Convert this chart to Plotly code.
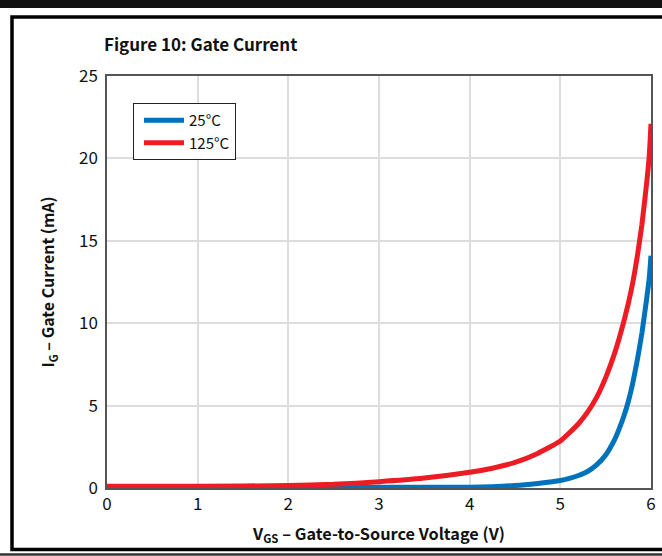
import plotly.graph_objects as go

# Data
vgs = [0, 1, 2, 2.5, 3, 3.5, 4, 4.25, 4.5, 4.75, 5.0, 5.1, 5.2, 5.3, 5.4, 5.5, 5.6, 5.65, 5.7, 5.75, 5.8, 5.85, 5.9, 5.95, 5.98, 6.0]
ig_125c = [0.1, 0.1, 0.15, 0.22, 0.38, 0.6, 0.95, 1.2, 1.55, 2.1, 2.85, 3.35, 3.9, 4.6, 5.5, 6.7, 8.2, 9.1, 10.1, 11.2, 12.5, 14.1, 16.0, 18.4, 20.1, 22.1]
ig_25c = [0.02, 0.02, 0.03, 0.03, 0.04, 0.04, 0.05, 0.08, 0.15, 0.28, 0.45, 0.58, 0.76, 1.0, 1.4, 2.0, 2.95, 3.6, 4.35, 5.25, 6.4, 7.8, 9.4, 11.4, 12.7, 14.1]

names = ["25°C", "125°C"]
colors = ["#0072bc", "#ed1c24"]

x_ticks = [0, 1, 2, 3, 4, 5, 6]
y_ticks = [0, 5, 10, 15, 20, 25]

FONT = "Noto Sans CJK SC, DejaVu Sans Condensed, sans-serif"

fig = go.Figure()
for name, ys, c in zip(names, [ig_25c, ig_125c], colors):
    fig.add_trace(go.Scatter(x=vgs, y=ys, mode="lines", name=name,
                             line=dict(color=c, width=5, shape="spline", smoothing=0.5)))

# plot area in pixels: x 107..651, y 76..488
L, R, T, B = 107, 651, 76, 488
W, H = R - L, B - T
def px(x):
    return (x - L) / W
def py(y):
    return (B - y) / H

shapes = [
    dict(type="rect", xref="paper", yref="paper", x0=px(-10), x1=px(700), y0=py(-2), y1=py(8),
         fillcolor="#111111", line=dict(width=0), layer="above"),
    dict(type="rect", xref="paper", yref="paper", x0=px(12), x1=px(720), y0=py(17), y1=py(549.5),
         fillcolor="rgba(0,0,0,0)", line=dict(color="#000000", width=3.5), layer="above"),
    dict(type="line", xref="paper", yref="paper", x0=px(-10), x1=px(700), y0=py(554.5), y1=py(554.5),
         line=dict(color="#333333", width=2.5), layer="above"),
]

fig.update_layout(
    width=662, height=556,
    margin=dict(l=L, r=662 - R, t=T, b=556 - B, pad=0, autoexpand=False),
    paper_bgcolor="white", plot_bgcolor="white",
    font=dict(family=FONT, color="#111111", size=16),
    title=dict(text="<b>Figure 10: Gate Current</b>", xref="container", x=104 / 662, xanchor="left",
               yref="container", y=1 - 45 / 556, yanchor="middle",
               font=dict(family=FONT, size=17, color="#111111")),
    showlegend=True,
    legend=dict(x=px(133), y=py(103), xanchor="left", yanchor="top",
                bordercolor="#222222", borderwidth=1, bgcolor="white",
                font=dict(family=FONT, size=15, color="#111111"),
                tracegroupgap=0, itemwidth=40, indentation=5),
    shapes=shapes,
    xaxis=dict(range=[0, 6], tickvals=x_ticks, ticktext=[str(t) for t in x_ticks],
               showgrid=True, gridcolor="#dddddd", gridwidth=1.5,
               showline=True, linecolor="#555555", linewidth=1.5, mirror=True,
               ticks="", zeroline=False, tickfont=dict(size=17, color="#111111"), automargin=False,
               title=dict(text="<b>V<sub>GS</sub> – Gate-to-Source Voltage (V)</b>",
                          font=dict(size=16.3), standoff=14)),
    yaxis=dict(range=[0, 25], tickvals=y_ticks, ticktext=[str(t) for t in y_ticks],
               showgrid=True, gridcolor="#dddddd", gridwidth=1.5,
               showline=True, linecolor="#555555", linewidth=1.5, mirror=True,
               ticks="", zeroline=False, tickfont=dict(size=17, color="#111111"), ticklabelstandoff=4,
               automargin=False,
               title=dict(text="<b>I<sub>G</sub> – Gate Current (mA)</b>",
                          font=dict(size=16), standoff=20)),
)

fig.write_html("out.html", config={"displayModeBar": False},
               post_script="document.body.style.margin='0px';")
